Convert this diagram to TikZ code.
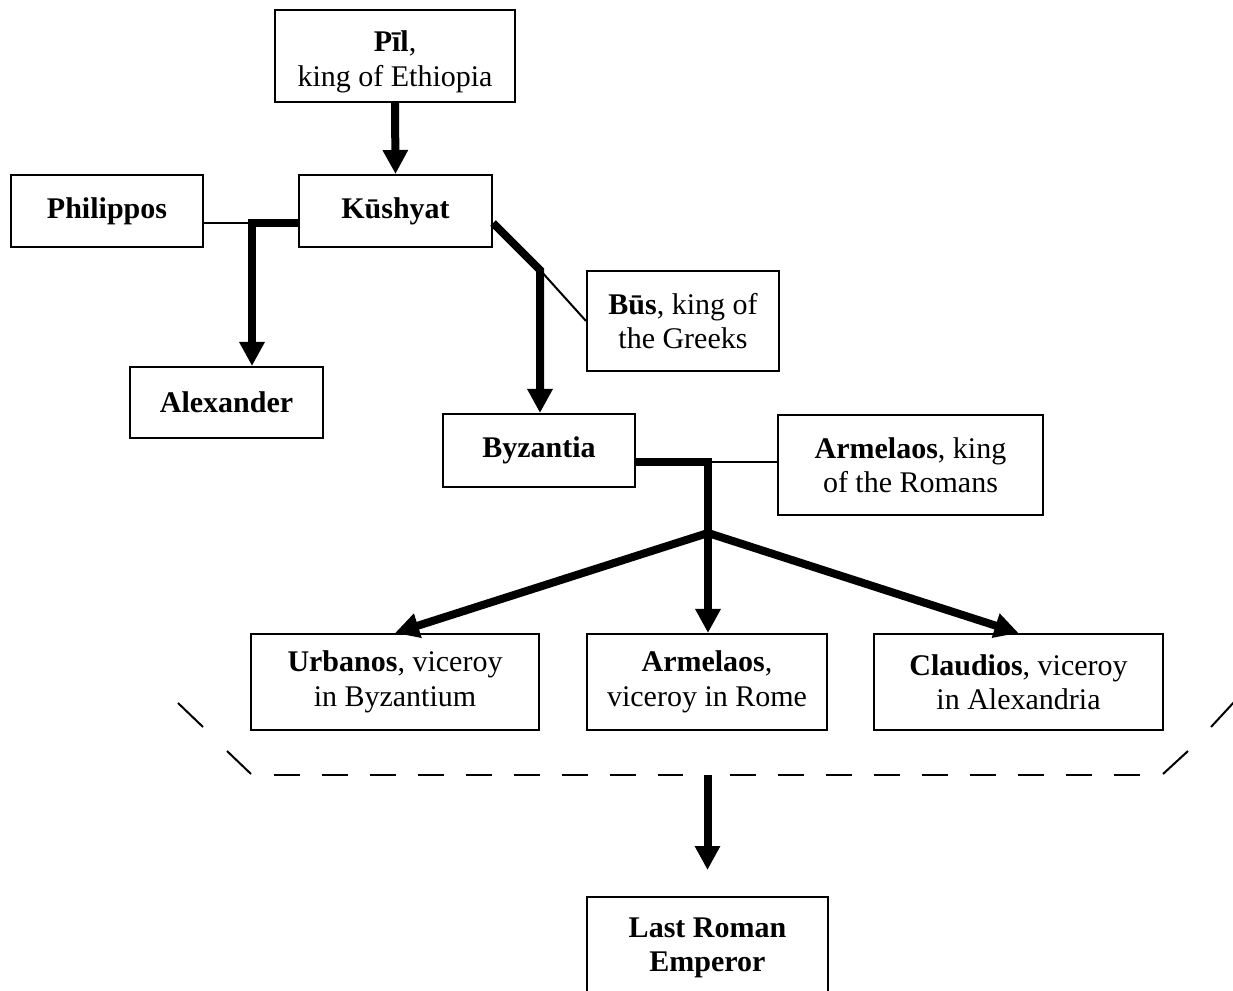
\documentclass[tikz,border=0pt]{standalone}
\usepackage{fontspec}
\setmainfont{Liberation Serif}
\usetikzlibrary{arrows.meta}
\begin{document}
\begin{tikzpicture}[x=0.4pt,y=-0.4pt,
  box/.style={draw, line width=0.8pt, inner sep=0pt, align=center,
    font=\fontsize{12}{13.8}\selectfont},
  thinline/.style={line width=0.8pt},
  thickline/.style={line width=3.2pt, line join=miter},
  arrowline/.style={line width=3.2pt, line join=miter,
    -{Triangle[length=9.6pt,width=9.6pt]}},
  dashline/.style={line width=1pt, dash pattern=on 10.4pt off 8.8pt},
  txt/.style={inner sep=0pt, align=center, font=\fontsize{12}{13.8}\selectfont}
]
\useasboundingbox (0,0) rectangle (1233,991);
\clip (0,0) rectangle (1233,991);

% boxes
\node[box, minimum width=96pt, minimum height=36.8pt] (pil) at (395,56) {};
\node[txt] (pilt) at (395,62) {\textbf{Pīl},\\king of Ethiopia};
\node[box, minimum width=77.2pt, minimum height=28.8pt] (kus) at (395.5,211)
  {\textbf{Kūshyat}};
\node[box, minimum width=76.8pt, minimum height=28.8pt] (phi) at (107,211)
  {\textbf{Philippos}};
\node[box, minimum width=77.2pt, minimum height=28.4pt] (alx) at (226.5,402.5)
  {\textbf{Alexander}};
\node[box, minimum width=76.8pt, minimum height=40pt] (bus) at (683,321)
  {\textbf{Būs}, king of\\the Greeks};
\node[box, minimum width=76.8pt, minimum height=29.2pt] (byz) at (539,450.5)
  {\textbf{Byzantia}};
\node[box, minimum width=106pt, minimum height=40pt] (ark) at (910.5,465)
  {\textbf{Armelaos}, king\\of the Romans};
\node[box, minimum width=115.2pt, minimum height=38.4pt] (urb) at (395,682)
  {\textbf{Urbanos}, viceroy\\in Byzantium};
\node[box, minimum width=96pt, minimum height=38.4pt] (arv) at (707,682)
  {\textbf{Armelaos},\\viceroy in Rome};
\node[box, minimum width=115.6pt, minimum height=38.4pt] (cla) at (1018.5,682)
  {\textbf{Claudios}, viceroy\\in Alexandria};
\node[box, minimum width=96.4pt, minimum height=42.4pt] (lastbox) at (707.5,950) {};
\node[txt] (last) at (707.5,948) {\textbf{Last Roman}\\\textbf{Emperor}};

% junctions
\coordinate (j1) at (252,223);
\coordinate (j2) at (540,270);
\coordinate (j3) at (708,462);
\coordinate (j4) at (708,533);

% connectors
\draw[arrowline] (pil.south) -- (kus.north);
\draw[thinline] (phi.east |- j1) -- (j1);
\draw[arrowline] (j1 -| kus.west) -- (j1) -- (j1 |- alx.north);
\draw[arrowline] (kus.east |- j1) -- (j2) -- (j2 |- byz.north);
\draw[thinline] (j2) -- (bus.west);
\draw[thinline] (j3) -- (j3 -| ark.west);
\draw[arrowline] (byz.east |- j3) -- (j3) -- (j4 |- arv.north);
\draw[arrowline] (j4) -- (urb.north);
\draw[arrowline] (j4) -- (cla.north);

% dashed bracket
\coordinate (dl1) at (274,775);
\coordinate (dl2) at (683,775);
\coordinate (dr1) at (730,775);
\coordinate (dr2) at (1140,775);
\draw[dashline] (dl1) -- (dl2);
\draw[dashline] (dr1) -- (dr2);
\coordinate (sl1a) at (178,703); \coordinate (sl1b) at (203,727);
\coordinate (sl2a) at (227,751); \coordinate (sl2b) at (251,774);
\coordinate (sr1a) at (1163,774); \coordinate (sr1b) at (1188,751);
\coordinate (sr2a) at (1211,727); \coordinate (sr2b) at (1235,701);
\draw[thinline] (sl1a) -- (sl1b);
\draw[thinline] (sl2a) -- (sl2b);
\draw[thinline] (sr1a) -- (sr1b);
\draw[thinline] (sr2a) -- (sr2b);

% final arrow
\coordinate (fa) at (707.5,775);
\coordinate (fb) at (707.5,870);
\draw[arrowline] (fa) -- (fb);
\end{tikzpicture}
\end{document}
